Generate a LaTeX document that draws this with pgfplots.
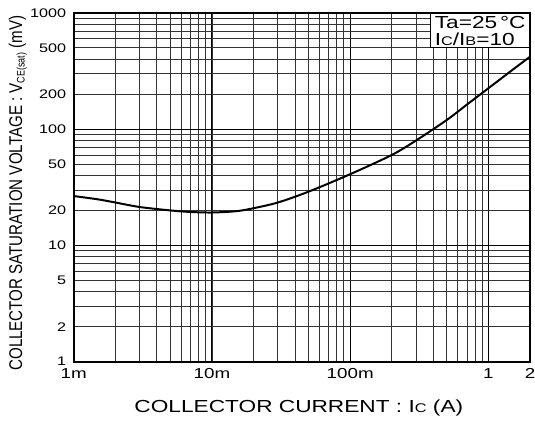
\documentclass[border=0pt]{standalone}
\usepackage{fontspec}
\setmainfont{Liberation Sans}[FakeStretch=1.3]
\newfontfamily\ylfont{Liberation Sans}[FakeStretch=0.82]
\usepackage{graphicx}
\usepackage{pgfplots}
\pgfplotsset{compat=1.18}

\begin{document}
\begin{tikzpicture}
\begin{axis}[
  name=ax,
  scale only axis, width=458bp, height=350bp,
  xmode=log, ymode=log,
  xmin=0.001, xmax=2, ymin=1, ymax=1000,
  xtick={0.001,0.01,0.1,1}, xticklabels={1m,10m,100m,1},
  extra x ticks={2}, extra x tick labels={2}, extra x tick style={grid=none},
  ytick={1,10,100,1000}, yticklabels={1,10,100,1000},
  extra y ticks={2,5,20,50,200,500}, extra y tick labels={2,5,20,50,200,500},
  extra y tick style={grid=none},
  grid=both,
  major grid style={black, line width=1bp},
  minor grid style={black!80, line width=0.9bp},
  major tick length=0pt, minor tick length=0pt,
  axis line style={line width=2bp},
  /pgf/number format/assume math mode=true,
  yticklabel style={font=\fontsize{12.5bp}{14bp}\selectfont, xshift=-4bp},
  xticklabel style={font=\fontsize{14.5bp}{16bp}\selectfont, yshift=-3bp},
  xlabel={COLLECTOR CURRENT : I\scalebox{0.72}{C} (A)},
  xlabel style={font=\fontsize{17.5bp}{20bp}\selectfont, at={(axis description cs:0.4934,-0.134)}, anchor=center},
  ylabel={\ylfont COLLECTOR SATURATION VOLTAGE : V\raisebox{-2.5bp}{\fontsize{11bp}{11bp}\selectfont CE(sat)} (mV)},
  ylabel style={font=\fontsize{18.5bp}{20bp}\selectfont, at={(axis description cs:-0.1223,0.483)}, anchor=center},
]
\addplot[black, line width=2bp, smooth] coordinates {
  (0.001,26.6) (0.0015,24.9) (0.002,23.4) (0.003,21.4) (0.005,20.0)
  (0.007,19.4) (0.01,19.2) (0.015,19.7) (0.02,20.9) (0.03,23.4)
  (0.05,29.0) (0.1,41.0) (0.2,60.0) (0.3,80.0) (0.5,120.0)
  (0.7,163.0) (1,225.0) (1.5,325.0) (2,420.0)
};
\node[draw, line width=1bp, fill=white, anchor=north east, align=left,
      inner xsep=4bp, inner ysep=2.5bp,
      font=\fontsize{17.5bp}{17bp}\selectfont] at (rel axis cs:1,1)
  {Ta=25\,°C\\I\scalebox{0.72}{C}/I\scalebox{0.72}{B}=10};
\end{axis}
\pgfresetboundingbox
\path ([shift={(-74bp,-61bp)}]ax.south west) rectangle ([shift={(5bp,13bp)}]ax.north east);
\end{tikzpicture}
\end{document}
